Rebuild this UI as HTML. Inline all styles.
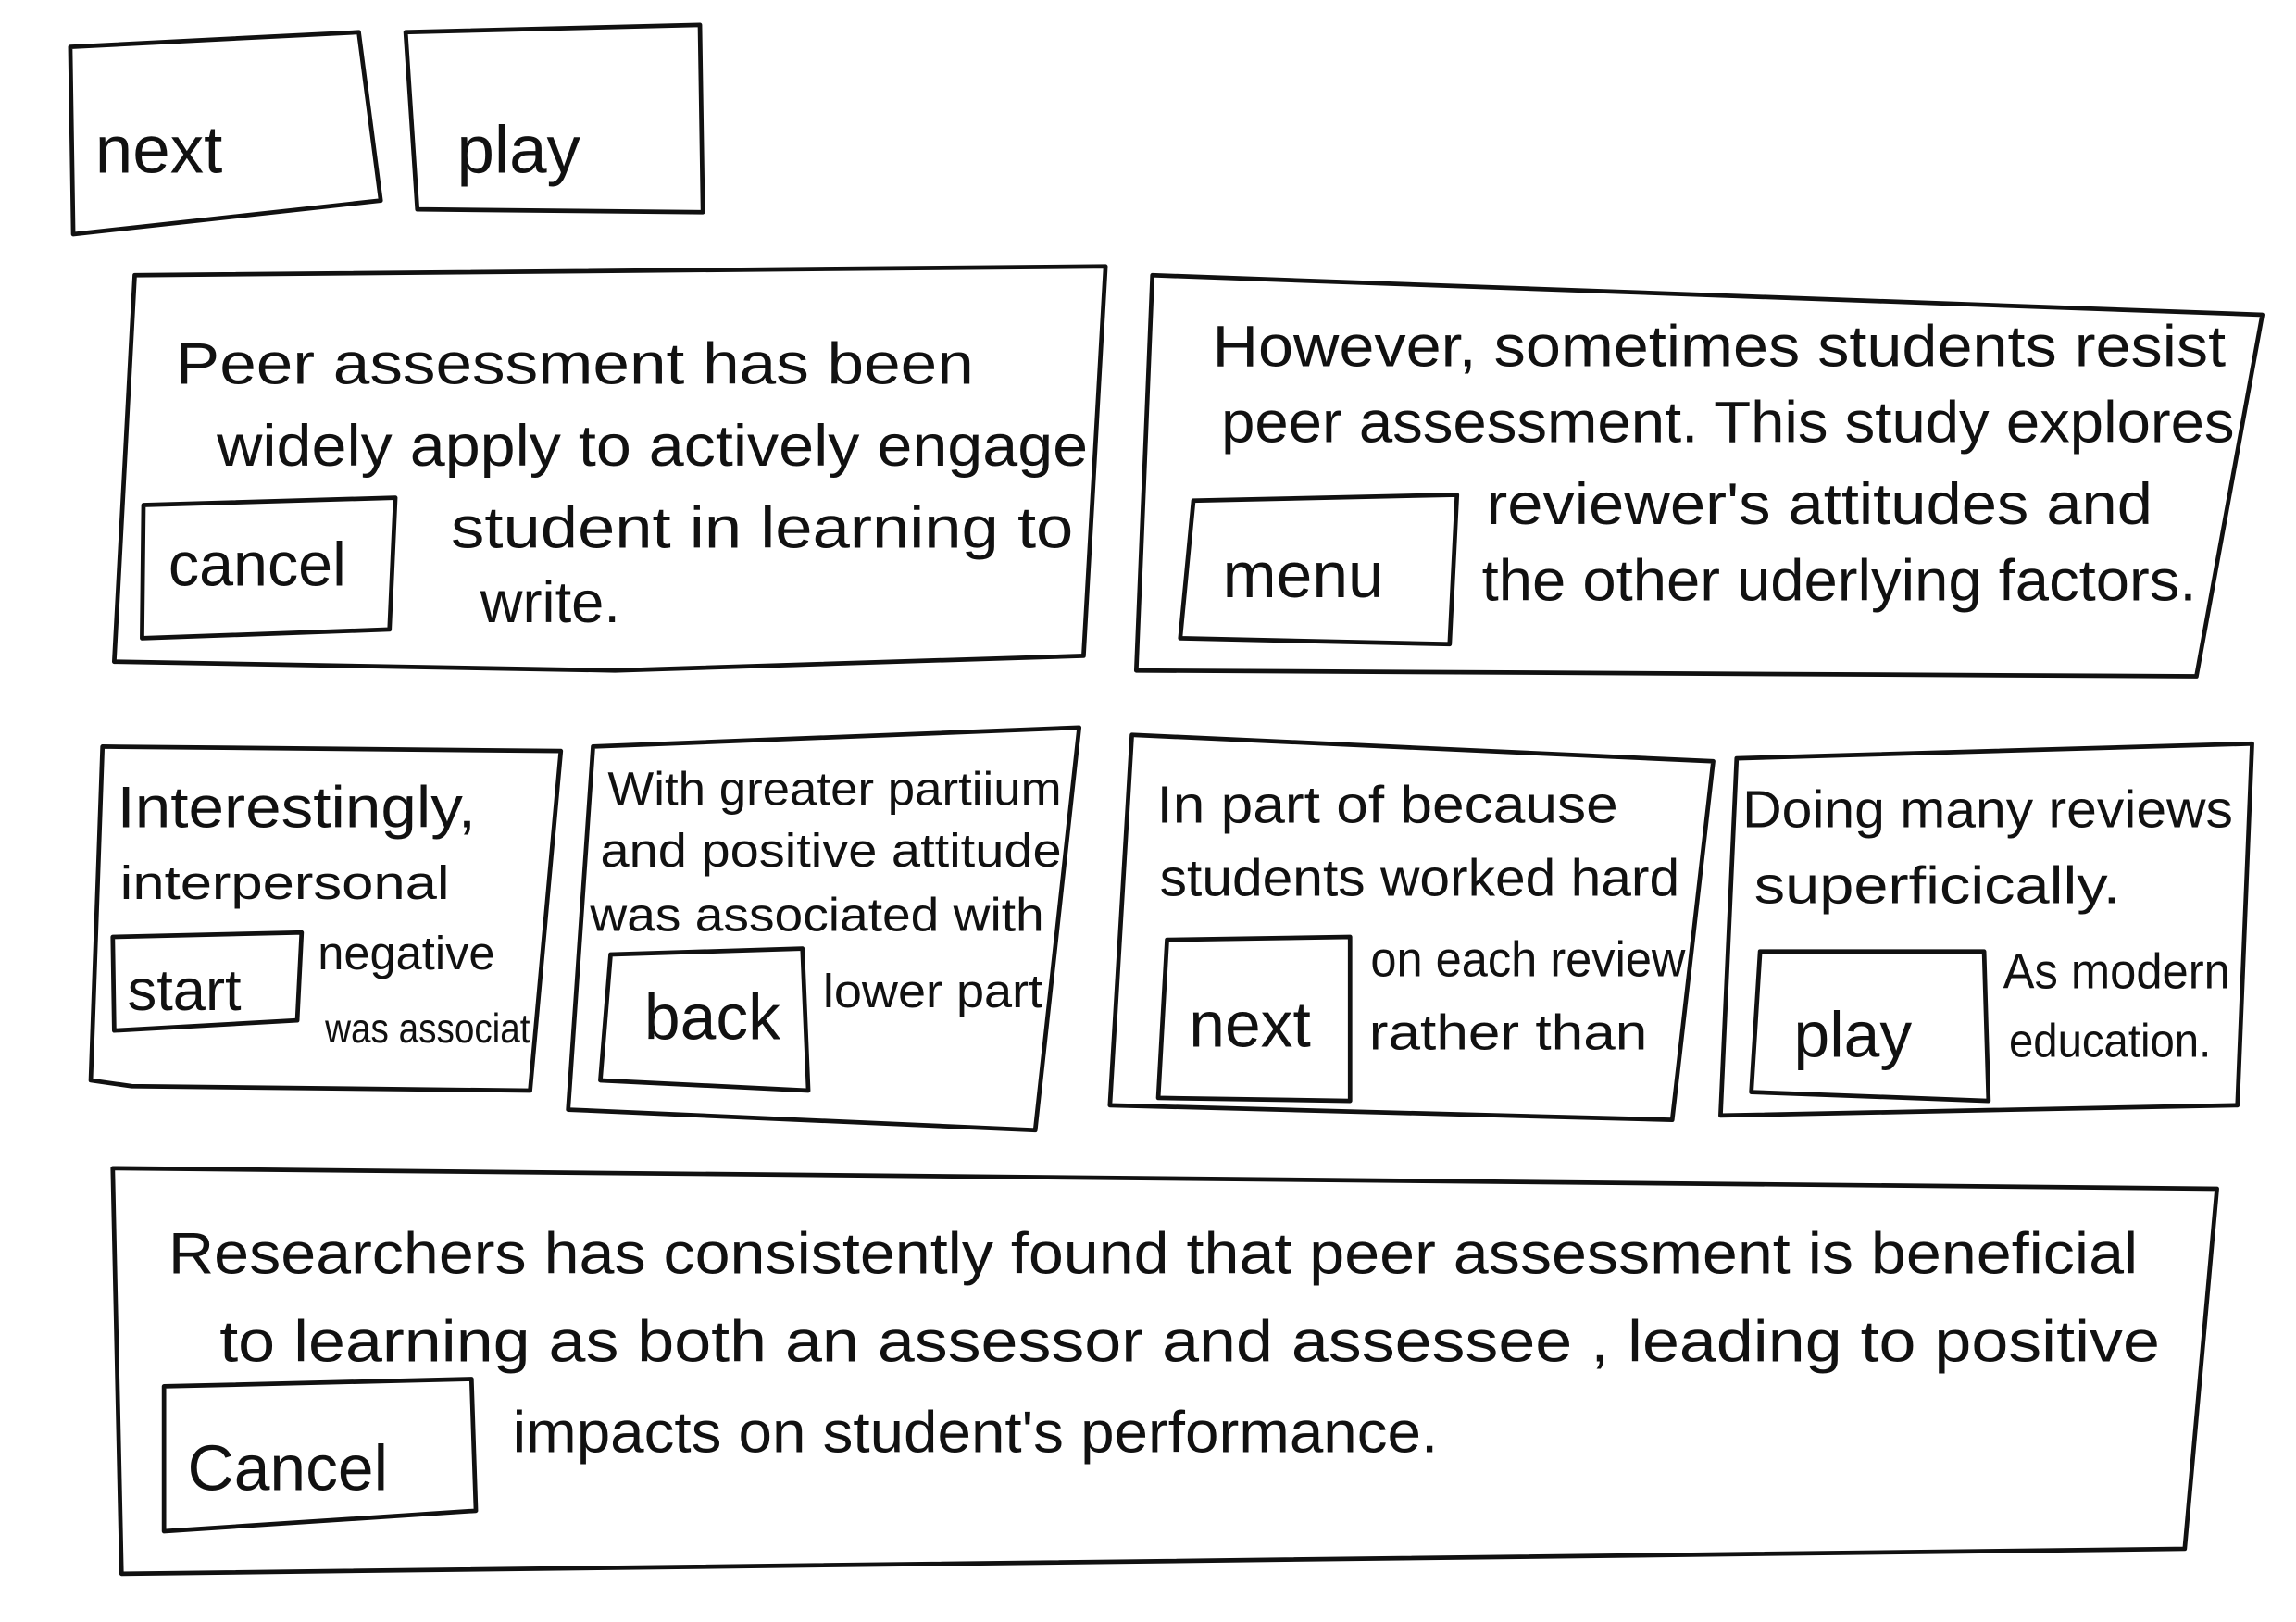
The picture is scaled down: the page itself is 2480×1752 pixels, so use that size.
<!DOCTYPE html>
<html><head><meta charset="utf-8"><style>
html,body{margin:0;padding:0;background:#fff;}
svg{display:block}
text{font-family:"Liberation Sans",sans-serif;fill:#111;}
</style></head><body>
<svg width="2480" height="1752" viewBox="0 0 1568 1108" preserveAspectRatio="none" xmlns="http://www.w3.org/2000/svg">
<rect width="1568" height="1108" fill="#fff"/>
<g fill="none" stroke="#111" stroke-width="3" stroke-linejoin="round">
<polygon points="48,32 245,22 260,137 50,160"/>
<polygon points="277,22 478,17 480,145 285,143"/>
<polygon points="92,188 755,182 740,448 420,458 78,452"/>
<polygon points="98,345 270,340 266,430 97,436"/>
<polygon points="787,188 1545,215 1500,462 776,458"/>
<polygon points="815,342 995,338 990,440 806,436"/>
<polygon points="70,510 383,513 362,745 90,742 62,738"/>
<polygon points="77,640 206,637 203,697 78,704"/>
<polygon points="405,510 737,497 707,772 388,758"/>
<polygon points="417,652 548,648 552,745 410,738"/>
<polygon points="773,502 1170,520 1142,765 758,755"/>
<polygon points="797,642 922,640 922,752 791,750"/>
<polygon points="1186,518 1538,508 1528,755 1175,762"/>
<polygon points="1202,650 1355,650 1358,752 1196,746"/>
<polygon points="77,798 1514,812 1492,1058 83,1075"/>
<polygon points="112,947 322,942 325,1032 112,1046"/>
</g>
<g font-size="40">
<text x="65" y="118" font-size="46">next</text>
<text x="312" y="118" font-size="46">play</text>
<text x="120" y="262" textLength="545" lengthAdjust="spacingAndGlyphs">Peer assessment has been</text>
<text x="148" y="318" textLength="595" lengthAdjust="spacingAndGlyphs">widely apply to actively engage</text>
<text x="308" y="374" textLength="425" lengthAdjust="spacingAndGlyphs">student in learning to</text>
<text x="328" y="425">write.</text>
<text x="115" y="400" font-size="42">cancel</text>
<text x="828" y="250" textLength="692" lengthAdjust="spacingAndGlyphs">However, sometimes students resist</text>
<text x="834" y="302" textLength="692" lengthAdjust="spacingAndGlyphs">peer assessment. This study explores</text>
<text x="1015" y="358" textLength="455" lengthAdjust="spacingAndGlyphs">reviewer's attitudes and</text>
<text x="1012" y="410" textLength="488" lengthAdjust="spacingAndGlyphs">the other uderlying factors.</text>
<text x="835" y="408" font-size="44">menu</text>
<text x="80" y="565" textLength="245" lengthAdjust="spacingAndGlyphs">Interestingly,</text>
<text x="82" y="614" font-size="32" textLength="225" lengthAdjust="spacingAndGlyphs">interpersonal</text>
<text x="87" y="690" font-size="40">start</text>
<text x="217" y="662" font-size="32">negative</text>
<text x="222" y="712" font-size="28" textLength="140" lengthAdjust="spacingAndGlyphs">was associat</text>
<text x="415" y="550" font-size="32" textLength="310" lengthAdjust="spacingAndGlyphs">With greater partiium</text>
<text x="410" y="592" font-size="32" textLength="315" lengthAdjust="spacingAndGlyphs">and positive attitude</text>
<text x="403" y="636" font-size="32" textLength="310" lengthAdjust="spacingAndGlyphs">was associated with</text>
<text x="440" y="710" font-size="44">back</text>
<text x="562" y="688" font-size="32" textLength="150" lengthAdjust="spacingAndGlyphs">lower part</text>
<text x="790" y="562" font-size="36" textLength="315" lengthAdjust="spacingAndGlyphs">In part of because</text>
<text x="792" y="612" font-size="36" textLength="355" lengthAdjust="spacingAndGlyphs">students worked hard</text>
<text x="936" y="667" font-size="34" textLength="215" lengthAdjust="spacingAndGlyphs">on each review</text>
<text x="935" y="717" font-size="34" textLength="190" lengthAdjust="spacingAndGlyphs">rather than</text>
<text x="812" y="715" font-size="44">next</text>
<text x="1190" y="565" font-size="36" textLength="335" lengthAdjust="spacingAndGlyphs">Doing many reviews</text>
<text x="1198" y="617" font-size="36" textLength="250" lengthAdjust="spacingAndGlyphs">superficically.</text>
<text x="1225" y="722" font-size="44">play</text>
<text x="1368" y="675" font-size="34" textLength="155" lengthAdjust="spacingAndGlyphs">As modern</text>
<text x="1372" y="722" font-size="32" textLength="138" lengthAdjust="spacingAndGlyphs">education.</text>
<text x="115" y="870" textLength="1345" lengthAdjust="spacingAndGlyphs">Researchers has consistently found that peer assessment is beneficial</text>
<text x="150" y="930" textLength="1325" lengthAdjust="spacingAndGlyphs">to learning as both an assessor and assessee , leading to positive</text>
<text x="350" y="992" textLength="632" lengthAdjust="spacingAndGlyphs">impacts on student's performance.</text>
<text x="128" y="1018" font-size="44">Cancel</text>
</g>
</svg>
</body></html>
